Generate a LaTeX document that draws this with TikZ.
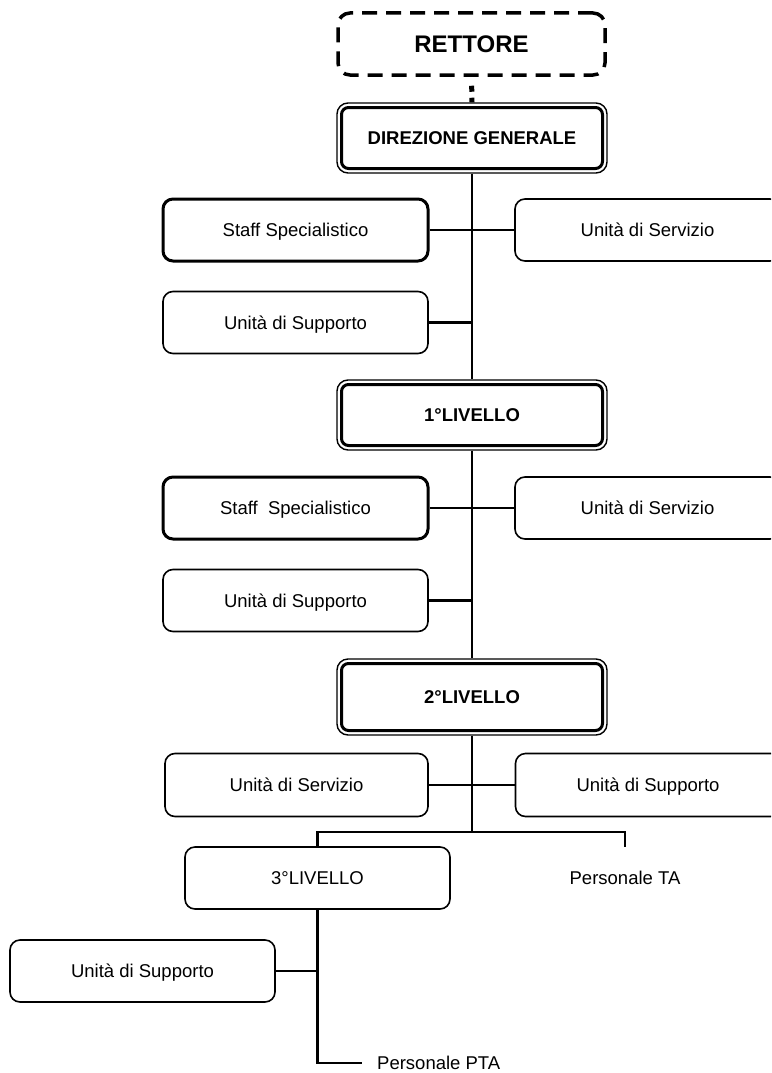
\documentclass[tikz,border=0pt]{standalone}
\usepackage{fontspec}
\setmainfont{Liberation Sans}
\begin{document}
\begin{tikzpicture}[x=1pt,y=-1pt,
  every node/.style={font=\fontsize{18.5}{22}\selectfont, inner sep=0pt, align=center},
  centred/.style={text height=13.2pt, text depth=0pt},
  unitbox/.style={draw, centred, line width=1.6pt, rounded corners=10pt,
    minimum width=265pt, minimum height=62pt},
  staffbox/.style={unitbox, line width=3pt},
  levelbox/.style={draw, centred, line width=1.4pt, rounded corners=11pt,
    minimum width=270pt, minimum height=70pt,
    font=\bfseries\fontsize{18.5}{22}\selectfont,
    path picture={\draw[line width=3pt, rounded corners=7pt]
      ([shift={(4.5pt,-4.5pt)}]path picture bounding box.north west) rectangle
      ([shift={(-4.5pt,4.5pt)}]path picture bounding box.south east);}},
  headbox/.style={draw, line width=3.5pt, rounded corners=12pt,
    dash pattern=on 15pt off 9pt, text height=17pt, text depth=0pt,
    minimum width=267pt, minimum height=62pt,
    font=\bfseries\fontsize{24}{28}\selectfont},
  link/.style={line width=2.5pt},
  dotlink/.style={line width=5pt, dash pattern=on 0pt off 9pt on 6pt off 6pt on 6pt off 10pt}
]
\useasboundingbox (0,0) rectangle (771,1073);
\clip (0,0) rectangle (771,1073);

% top of the hierarchy
\node[headbox] (ret) at (471.5,44) {RETTORE};
\node[levelbox] (dg) at (472,138) {DIREZIONE GENERALE};

% units under the general direction
\node[staffbox] (st1) at (295.5,230) {Staff Specialistico};
\node[unitbox] (sv1) at (647.5,230) {Unità di Servizio};
\node[unitbox] (su1) at (295.5,322.5) {Unità di Supporto};

% first level
\node[levelbox] (l1) at (472,415) {1°LIVELLO};
\node[staffbox] (st2) at (295.5,508) {Staff\ \ Specialistico};
\node[unitbox] (sv2) at (647.5,508) {Unità di Servizio};
\node[unitbox] (su2) at (295.5,600.5) {Unità di Supporto};

% second level
\node[levelbox, minimum height=76pt] (l2) at (472,697) {2°LIVELLO};
\node[unitbox, minimum height=63pt, minimum width=263pt] (sv3) at (296.5,785) {Unità di Servizio};
\node[unitbox, minimum height=63pt] (su3) at (648,785) {Unità di Supporto};

% third level and staff
\node[unitbox] (l3) at (317.5,878) {3°LIVELLO};
\node[centred] (ta) at (625,878) {Personale TA};
\node[unitbox] (su4) at (142.5,971) {Unità di Supporto};
\node[centred, anchor=west] (pta) at (377,1063) {Personale PTA};

\coordinate (br) at (472,832);
\coordinate (tatop) at (625,847);
\coordinate (ptaend) at (362,1063);

% connectors
\draw[dotlink] (ret.south) -- (dg.north);
\draw[link] (dg) -- (l1);
\draw[link] (l1) -- (l2);
\draw[link] (l2) -- (br);
\draw[link] (st1) -- (sv1);
\draw[link] (su1.east) -- (su1.east -| dg.south);
\draw[link] (st2) -- (sv2);
\draw[link] (su2.east) -- (su2.east -| l1.south);
\draw[link] (sv3) -- (su3);
\draw[link] (l3.north) |- (br) -| (tatop);
\draw[link] (l3.south) |- (ptaend);
\draw[link] (su4.east) -- (su4.east -| l3.south);
\end{tikzpicture}
\end{document}
